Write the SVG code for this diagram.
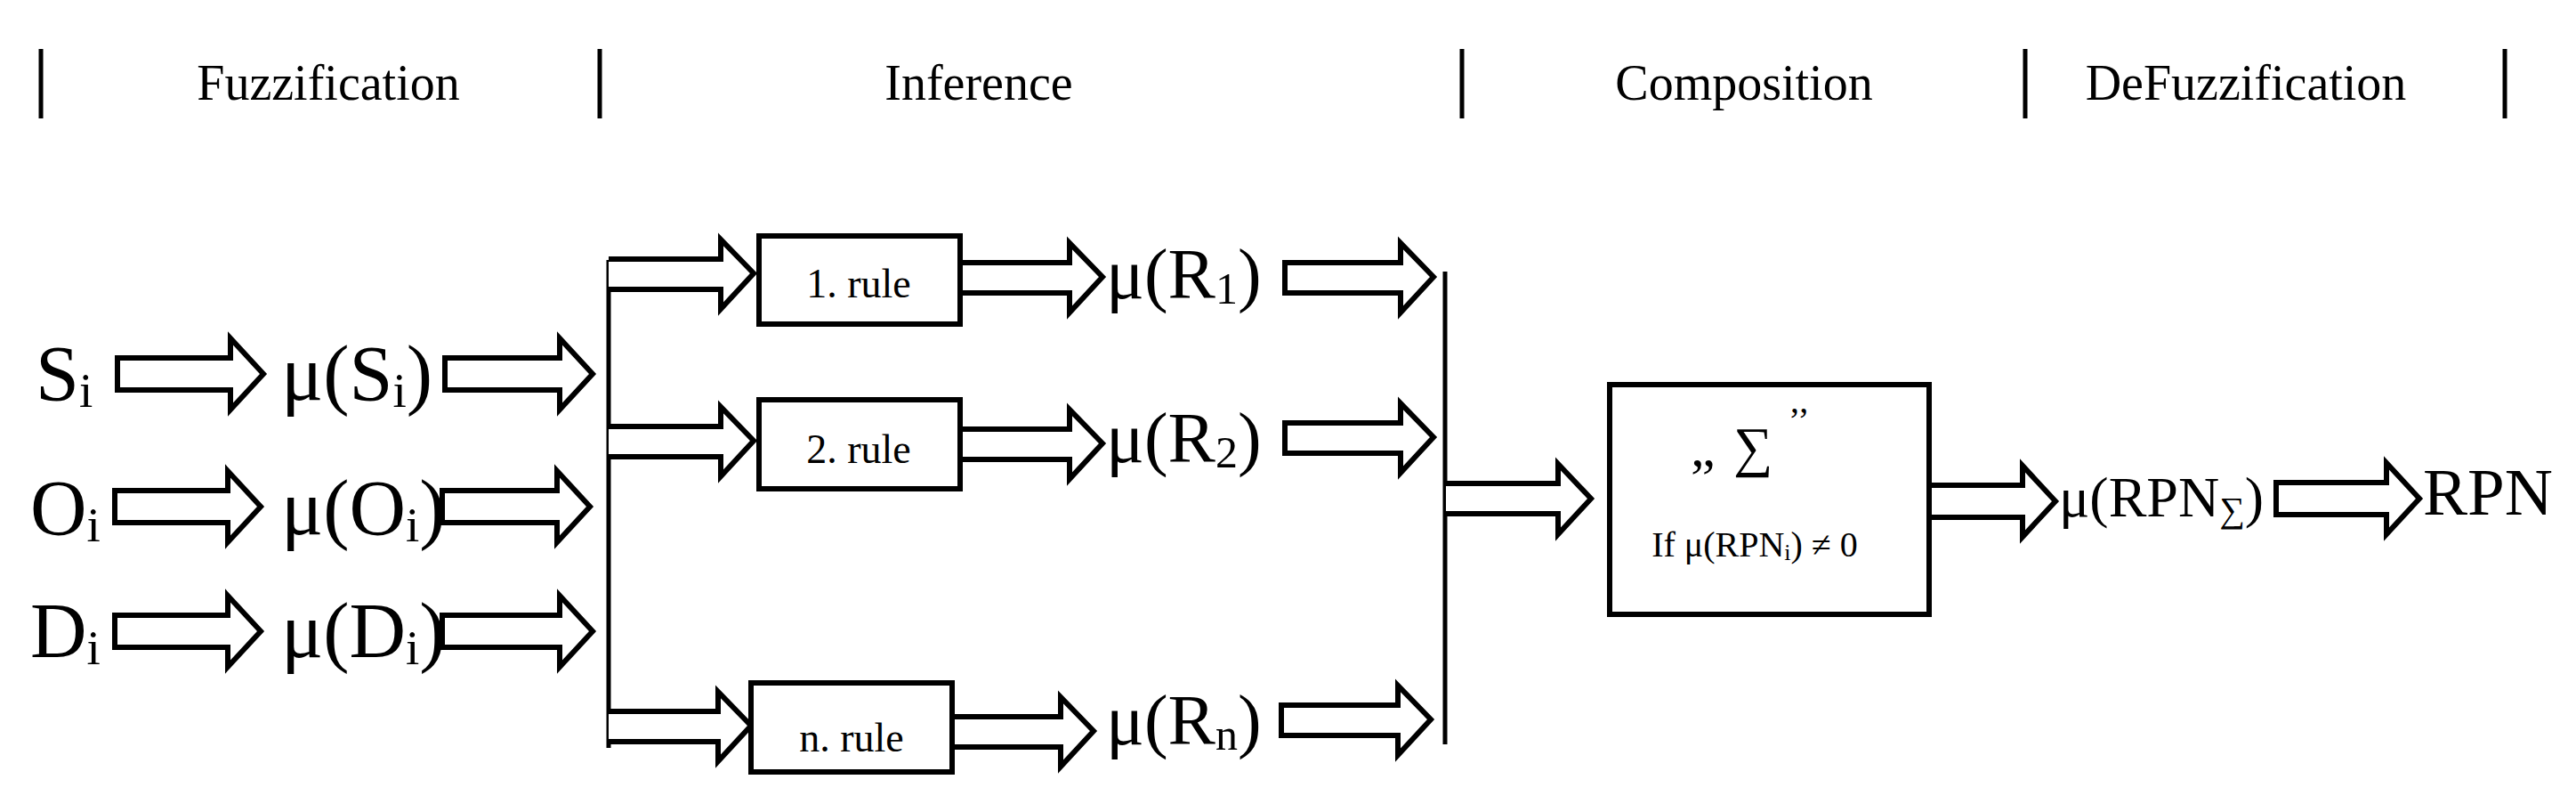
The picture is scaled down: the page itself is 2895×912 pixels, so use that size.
<svg xmlns="http://www.w3.org/2000/svg" width="2895" height="912" viewBox="0 0 2895 912">
<style>
.t{font-family:"Liberation Serif","Times New Roman",serif;fill:#000}
.a{fill:#fff;stroke:#000;stroke-width:6;stroke-linejoin:miter}
.b{fill:#fff;stroke:#000;stroke-width:6}
.l{stroke:#000;stroke-width:5;fill:none}
</style>
<rect width="2895" height="912" fill="#fff"/>
<g id="header">
<path class="l" d="M46 55V133M674 55V133M1643 55V133M2276 55V133M2815 55V133"/>
<text class="t" x="369" y="112" font-size="56" text-anchor="middle">Fuzzification</text>
<text class="t" x="1100" y="112" font-size="56" text-anchor="middle">Inference</text>
<text class="t" x="1960" y="112" font-size="56" text-anchor="middle">Composition</text>
<text class="t" x="2524" y="112" font-size="56" text-anchor="middle">DeFuzzification</text>
</g>
<g id="connectors">
<path class="a" d="M132 402H259V380L296 420L259 460V438H132Z"/>
<path class="a" d="M500 402H629V380L666 420L629 460V438H500Z"/>
<path class="a" d="M129 551H256V529L293 569L256 609V587H129Z"/>
<path class="a" d="M497 551H626V529L663 569L626 609V587H497Z"/>
<path class="a" d="M129 691H256V669L293 709L256 749V727H129Z"/>
<path class="a" d="M497 691H629V669L666 709L629 749V727H497Z"/>
<path class="l" d="M684 292V840" stroke-width="6"/>
<path class="a" d="M684 291H810V269L847 307L810 347V325H684"/>
<path class="a" d="M684 479H810V457L847 495L810 535V513H684"/>
<path class="a" d="M684 799H807V777L844 815L807 855V833H684"/>
<path class="a" d="M1079 295H1202V273L1239 311L1202 351V329H1079"/>
<path class="a" d="M1079 482H1202V460L1239 498L1202 538V516H1079"/>
<path class="a" d="M1070 805H1192V783L1229 821L1192 861V839H1070"/>
<path class="a" d="M1444 295H1574V273L1611 311L1574 351V329H1444Z"/>
<path class="a" d="M1444 475H1574V453L1611 491L1574 531V509H1444Z"/>
<path class="a" d="M1440 792H1571V770L1608 808L1571 848V826H1440Z"/>
<path class="l" d="M1624 305V836"/>
<path class="a" d="M1625 543H1751V521L1788 560L1751 600V577H1625"/>
<path class="a" d="M2168 545H2273V523L2310 563L2273 603V581H2168"/>
<path class="a" d="M2558 542H2682V520L2719 560L2682 600V578H2558Z"/>
</g>
<g id="inputs">
<text class="t" x="40" y="449" font-size="88">S<tspan font-size="55" dy="8">i</tspan></text>
<text class="t" x="34" y="600" font-size="88">O<tspan font-size="55" dy="8">i</tspan></text>
<text class="t" x="34" y="738" font-size="88">D<tspan font-size="55" dy="8">i</tspan></text>
<text class="t" x="316" y="449" font-size="88">μ(S<tspan font-size="55" dy="8">i</tspan><tspan dy="-8">)</tspan></text>
<text class="t" x="316" y="600" font-size="88">μ(O<tspan font-size="55" dy="8">i</tspan><tspan dy="-8">)</tspan></text>
<text class="t" x="316" y="738" font-size="88">μ(D<tspan font-size="55" dy="8">i</tspan><tspan dy="-8">)</tspan></text>
</g>
<g id="rule1"><rect class="b" x="853" y="265" width="226" height="99"/><text class="t" x="965" y="334" font-size="46" text-anchor="middle">1. rule</text></g>
<g id="rule2"><rect class="b" x="853" y="449" width="226" height="100"/><text class="t" x="965" y="520" font-size="46" text-anchor="middle">2. rule</text></g>
<g id="rulen"><rect class="b" x="844" y="767" width="226" height="100"/><text class="t" x="957" y="844" font-size="46" text-anchor="middle">n. rule</text></g>
<g id="results">
<text class="t" x="1243" y="335" font-size="80">μ(R<tspan font-size="50" dy="6">1</tspan><tspan dy="-6">)</tspan></text>
<text class="t" x="1243" y="519" font-size="80">μ(R<tspan font-size="50" dy="6">2</tspan><tspan dy="-6">)</tspan></text>
<text class="t" x="1243" y="836" font-size="80">μ(R<tspan font-size="50" dy="6">n</tspan><tspan dy="-6">)</tspan></text>
</g>
<g id="composition">
<rect class="b" x="1809" y="432" width="359" height="258"/>
<text class="t" x="1900" y="523" font-size="62">„<tspan x="1948">∑</tspan><tspan x="2010" y="485" font-size="40">’’</tspan></text>
<text class="t" x="1972" y="625" font-size="40" text-anchor="middle">If μ(RPN<tspan font-size="26" dy="4">i</tspan><tspan dy="-4">) ≠ 0</tspan></text>
</g>
<g id="output">
<text class="t" x="2314" y="580" font-size="64">μ(RPN<tspan font-size="40" dy="6">∑</tspan><tspan dy="-6">)</tspan></text>
<text class="t" x="2723" y="578" font-size="75">RPN</text>
</g>
</svg>
